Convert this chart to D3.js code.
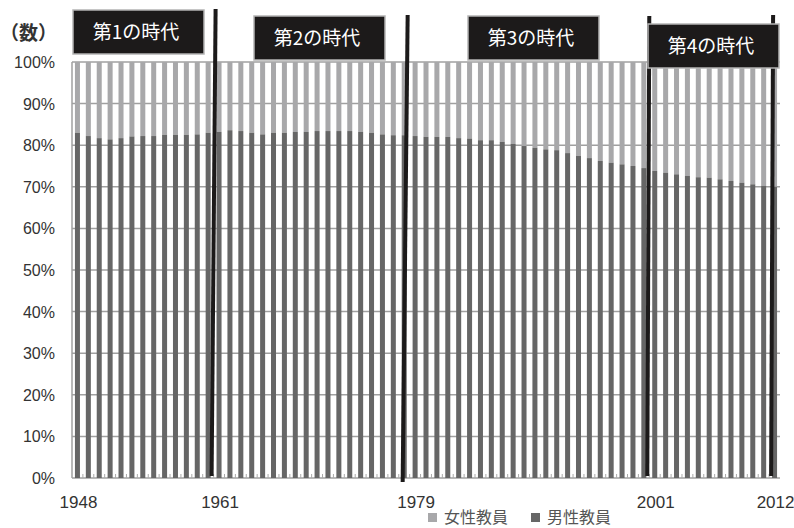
<html lang="ja">
  <head>
    <meta charset="utf-8">
    <title>男性教員・女性教員の割合</title>
    <script src="https://d3js.org/d3.v7.min.js"></script>
    <style>
      body { margin: 0; background: #fff; }
    </style>
  </head>
  <body>
    <div id="viz"></div>
    <script type="text/javascript">
    // categories: every year from 1948 to 2012
    var years = d3.range(1948, 2013);
    // share of male teachers (%)
    var maleShare = [83.0, 82.2, 81.7, 81.4, 81.7, 82.1, 82.2, 82.2, 82.5, 82.5,
                     82.5, 82.6, 83.0, 83.2, 83.6, 83.4, 83.0, 82.6, 83.0, 83.0,
                     83.2, 83.2, 83.4, 83.4, 83.4, 83.4, 83.2, 83.0, 82.6, 82.4,
                     82.4, 82.2, 82.0, 82.0, 82.0, 81.7, 81.6, 81.2, 81.2, 80.8,
                     80.3, 79.8, 79.4, 79.0, 78.8, 78.1, 77.4, 76.9, 76.2, 75.8,
                     75.4, 75.0, 74.5, 73.8, 73.4, 73.0, 72.6, 72.3, 72.2, 71.8,
                     71.4, 71.0, 70.6, 70.2, 70.0];
    var yTicks = [0, 0.1, 0.2, 0.3, 0.4, 0.5, 0.6, 0.7, 0.8, 0.9, 1];
    var xLabels = [1948, 1961, 1979, 2001, 2012];
    var eraYears = [1961, 1979, 2001, 2012];
    var eraNames = ["第1の時代", "第2の時代", "第3の時代", "第4の時代"];
    var seriesNames = ["女性教員", "男性教員"];

    var w = 794;
    var h = 528;
    var colFemale = "#a8a8aa";
    var colMale = "#666666";
    var colLine = "#1c1a1a";

    var svg = d3.select("#viz")
            .append("svg")
            .attr("width", w)
            .attr("height", h);

    var x = d3.scaleBand()
            .domain(years)
            .range([72, 780]);
    var y = d3.scaleLinear()
            .domain([0, 1])
            .range([478, 62]);

    // gridlines
    svg.append("g")
        .selectAll("line")
        .data(yTicks)
        .enter()
        .append("line")
        .attr("x1", 72)
        .attr("x2", 780)
        .attr("y1", function(d) { return y(d); })
        .attr("y2", function(d) { return y(d); })
        .attr("stroke", "#a0a0a0")
        .attr("stroke-width", 1.5);

    // left axis line
    svg.append("line")
        .attr("x1", 72).attr("x2", 72)
        .attr("y1", y(0)).attr("y2", y(1))
        .attr("stroke", "#a0a0a0")
        .attr("stroke-width", 1.5);

    // y labels
    svg.append("g")
        .selectAll("text")
        .data(yTicks)
        .enter()
        .append("text")
        .attr("x", 55)
        .attr("y", function(d) { return y(d) + 6; })
        .attr("text-anchor", "end")
        .attr("font-family", "Liberation Sans, Arial, sans-serif")
        .attr("font-size", 16)
        .attr("fill", "#333")
        .text(function(d) { return d3.format(".0%")(d); });

    svg.append("text")
        .attr("x", 0)
        .attr("y", 40)
        .attr("font-family", "Noto Sans CJK JP")
        .attr("font-size", 19)
        .attr("font-weight", "bold")
        .attr("fill", "#333")
        .text("（数）");

    var barW = x.bandwidth() * 0.46;

    // female part (top)
    svg.append("g")
        .selectAll("rect")
        .data(years)
        .enter()
        .append("rect")
        .attr("x", function(d) { return x(d) + (x.bandwidth() - barW) / 2; })
        .attr("y", y(1))
        .attr("width", barW)
        .attr("height", function(d, i) { return y(maleShare[i] / 100) - y(1); })
        .attr("fill", colFemale);

    // male part (bottom)
    svg.append("g")
        .selectAll("rect")
        .data(years)
        .enter()
        .append("rect")
        .attr("x", function(d) { return x(d) + (x.bandwidth() - barW) / 2; })
        .attr("y", function(d, i) { return y(maleShare[i] / 100); })
        .attr("width", barW)
        .attr("height", function(d, i) { return y(0) - y(maleShare[i] / 100); })
        .attr("fill", colMale);

    // small inside ticks at the category borders
    svg.append("g")
        .selectAll("line")
        .data(years.slice(1))
        .enter()
        .append("line")
        .attr("x1", function(d) { return x(d); })
        .attr("x2", function(d) { return x(d); })
        .attr("y1", y(0))
        .attr("y2", y(0) - 4)
        .attr("stroke", "#aaa")
        .attr("stroke-width", 1);

    // x labels
    svg.append("g")
        .selectAll("text")
        .data(xLabels)
        .enter()
        .append("text")
        .attr("x", function(d) { return x(d) + x.bandwidth() / 2 + 1; })
        .attr("y", 508)
        .attr("text-anchor", "middle")
        .attr("font-family", "Liberation Sans, Arial, sans-serif")
        .attr("font-size", 17)
        .attr("fill", "#333")
        .text(function(d) { return d; });

    // hand drawn era separators (slightly slanted)
    var lean = [[2, -2, 9, 476], [-2, -7, 15, 482], [0, -2, 16, 476], [4, 2, 15, 476]];
    svg.append("g")
        .selectAll("line")
        .data(eraYears)
        .enter()
        .append("line")
        .attr("x1", function(d, i) { return x(d) + lean[i][0]; })
        .attr("x2", function(d, i) { return x(d) + lean[i][1]; })
        .attr("y1", function(d, i) { return lean[i][2]; })
        .attr("y2", function(d, i) { return lean[i][3]; })
        .attr("stroke", colLine)
        .attr("stroke-width", 4);

    // era label boxes
    var boxPos = [[73, 10], [254, 16], [468, 16], [648, 24]];
    var boxes = svg.append("g")
        .selectAll("g")
        .data(eraNames)
        .enter()
        .append("g")
        .attr("transform", function(d, i) { return "translate(" + boxPos[i][0] + "," + boxPos[i][1] + ")"; });

    boxes.append("rect")
        .attr("width", 131)
        .attr("height", 44)
        .attr("fill", colLine)
        .attr("stroke", "#b4b4b4")
        .attr("stroke-width", 1.5);

    boxes.append("text")
        .attr("x", 63)
        .attr("y", 29)
        .attr("text-anchor", "middle")
        .attr("font-family", "Noto Sans CJK JP")
        .attr("font-size", 19)
        .attr("fill", "#fff")
        .text(function(d) { return d; });

    // legend
    var legX = [428, 531];
    var legend = svg.append("g")
        .selectAll("g")
        .data(seriesNames)
        .enter()
        .append("g")
        .attr("transform", function(d, i) { return "translate(" + legX[i] + ",0)"; });

    legend.append("rect")
        .attr("y", 513)
        .attr("width", 9)
        .attr("height", 9)
        .attr("fill", function(d, i) { return i == 0 ? colFemale : colMale; });

    legend.append("text")
        .attr("x", 16)
        .attr("y", 523)
        .attr("font-family", "Noto Sans CJK JP")
        .attr("font-size", 16)
        .attr("fill", "#555")
        .text(function(d) { return d; });
    </script>
  </body>
</html>
